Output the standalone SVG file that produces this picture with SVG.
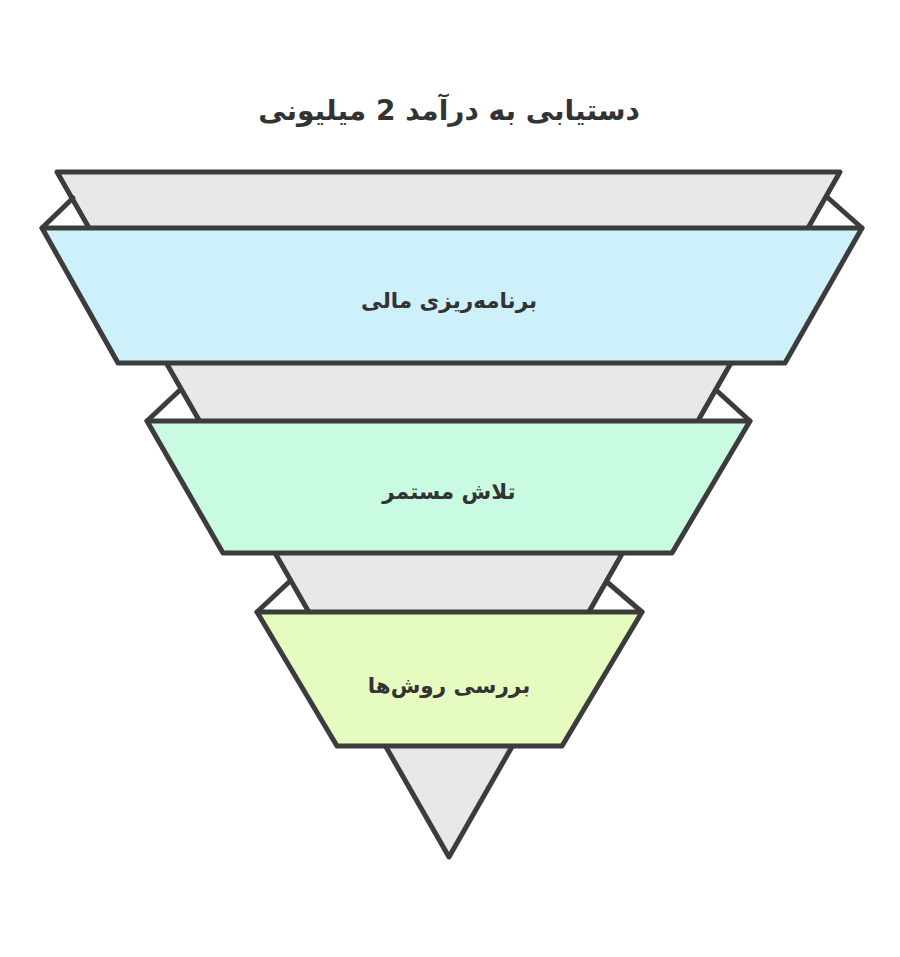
<svg xmlns="http://www.w3.org/2000/svg" width="900" height="957" viewBox="0 0 900 957">
<style>
.bg{fill:#ffffff}
.ln{stroke:#3c3c3c;stroke-width:5;stroke-linejoin:round;stroke-linecap:round;fill:none}
.back{fill:#e8e8e8;stroke:#3c3c3c;stroke-width:5;stroke-linejoin:round}
.b1{fill:#cdf0fb;stroke:#3c3c3c;stroke-width:5;stroke-linejoin:round}
.b2{fill:#c8fbe2;stroke:#3c3c3c;stroke-width:5;stroke-linejoin:round}
.b3{fill:#e6fbc0;stroke:#3c3c3c;stroke-width:5;stroke-linejoin:round}
.lbl{font-family:"DejaVu Sans","Noto Sans",sans-serif;font-weight:bold;font-size:21.5px;fill:#333333;text-anchor:middle}
.ttl{font-family:"DejaVu Sans","Noto Sans",sans-serif;font-weight:bold;font-size:28px;fill:#333333;text-anchor:middle}
</style>
<rect class="bg" x="0" y="0" width="900" height="957"/>
<g id="title">
<text class="ttl" x="449" y="120" direction="rtl">دستیابی به درآمد 2 میلیونی</text>
</g>
<g id="funnel-back">
<polygon class="back" points="57,172 840,172 449,857"/>
</g>
<g id="band-1">
<line class="ln" x1="42" y1="228" x2="73" y2="198"/>
<line class="ln" x1="862" y1="228" x2="827" y2="197"/>
<polygon class="b1" points="42,228 862,228 785,363 118,363"/>
<text class="lbl" x="449" y="308" direction="rtl">برنامه‌ریزی مالی</text>
</g>
<g id="band-2">
<line class="ln" x1="147" y1="421" x2="180" y2="390"/>
<line class="ln" x1="750" y1="421" x2="716" y2="390"/>
<polygon class="b2" points="147,421 750,421 672,553 223,553"/>
<text class="lbl" x="449" y="499" direction="rtl">تلاش مستمر</text>
</g>
<g id="band-3">
<line class="ln" x1="257" y1="612" x2="289" y2="582"/>
<line class="ln" x1="642" y1="612" x2="607" y2="582"/>
<polygon class="b3" points="257,612 642,612 562,746 337,746"/>
<text class="lbl" x="449" y="693" direction="rtl">بررسی روش‌ها</text>
</g>
</svg>
